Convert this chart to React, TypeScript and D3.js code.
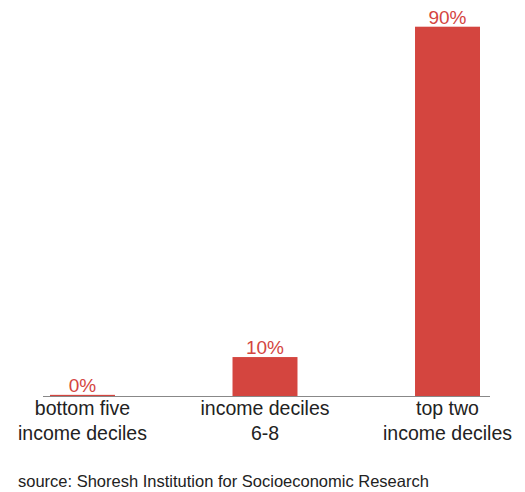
import React from "react";
import * as d3 from "d3";

const categories = [["bottom five", "income deciles"], ["income deciles", "6-8"], ["top two", "income deciles"]];
const values = [0.4, 9.6, 90];
const valueLabels = ["0%", "10%", "90%"];
const source = "source: Shoresh Institution for Socioeconomic Research";

const W = 525;
const H = 492;
const baseY = 396.5;
const font = "Liberation Sans, Arial, Helvetica, sans-serif";
const red = "#d4453f";

export default function App() {
  const keys = categories.map((c) => c.join(" "));
  const x = d3.scaleBand<string>().domain(keys).range([31.75, 498.25]).paddingInner(0.644).paddingOuter(0.1);
  const y = d3.scaleLinear().domain([0, 90]).range([baseY, 26.7]);
  return (
    <svg width={W} height={H} style={{ position: "absolute", left: 0, top: 0, background: "#fff" }}>
      {values.map((v, i) => {
        const bx = x(keys[i])!;
        return (
          <g key={i}>
            <rect x={bx} y={y(v)} width={x.bandwidth()} height={baseY - y(v)} fill={red} />
            <text x={bx + x.bandwidth() / 2} y={y(v) - 3} textAnchor="middle" fontFamily={font} fontSize={19} fill={red}>
              {valueLabels[i]}
            </text>
          </g>
        );
      })}
      <line x1={43} x2={490} y1={baseY} y2={baseY} stroke="#888" strokeWidth={1} />
      {categories.map((c, i) => (
        <text key={i} textAnchor="middle" fontFamily={font} fontSize={19.5} fill="#222">
          {c.map((line, j) => (
            <tspan key={j} x={x(keys[i])! + x.bandwidth() / 2} y={415 + j * 24.5}>
              {line}
            </tspan>
          ))}
        </text>
      ))}
      <text x={18} y={487} fontFamily={font} fontSize={16.5} fill="#222">
        {source}
      </text>
    </svg>
  );
}
